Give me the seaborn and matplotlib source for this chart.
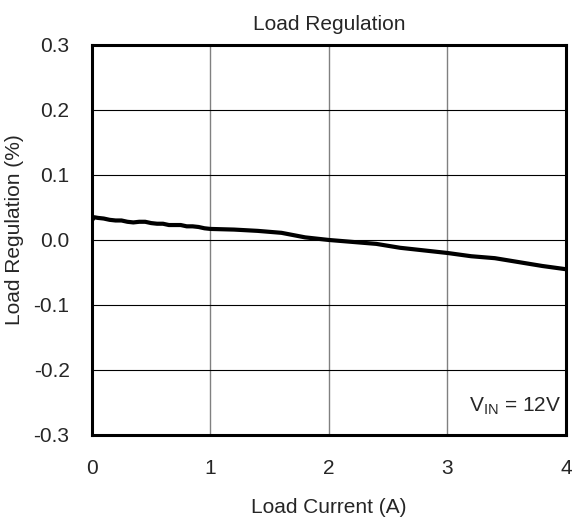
import numpy as np
import pandas as pd
import matplotlib
matplotlib.use('Agg')
import matplotlib.pyplot as plt
import seaborn as sns

# Load regulation curve
current = [0.0, 0.02, 0.05, 0.1, 0.15, 0.2, 0.25, 0.3, 0.35, 0.4, 0.45, 0.5, 0.55, 0.6,
           0.65, 0.7, 0.75, 0.8, 0.85, 0.9, 0.95, 1.0, 1.2, 1.4, 1.6, 1.8, 2.0, 2.2,
           2.4, 2.6, 2.8, 3.0, 3.2, 3.4, 3.6, 3.8, 4.0]
regulation = [0.030, 0.035, 0.034, 0.033, 0.031, 0.030, 0.030, 0.028, 0.027, 0.028,
              0.028, 0.026, 0.025, 0.025, 0.023, 0.023, 0.023, 0.021, 0.021, 0.020,
              0.018, 0.017, 0.016, 0.014, 0.011, 0.004, 0.000, -0.003, -0.006, -0.012,
              -0.016, -0.020, -0.025, -0.028, -0.034, -0.040, -0.045]

x_ticks = [0, 1, 2, 3, 4]
y_ticks = [-0.3, -0.2, -0.1, 0.0, 0.1, 0.2, 0.3]
y_labels = ['-0.3', '-0.2', '-0.1', '0.0', '0.1', '0.2', '0.3']

df = pd.DataFrame({'current': current, 'regulation': regulation})

sns.set_style('white')
plt.rcParams['font.family'] = ['Liberation Sans', 'DejaVu Sans']
plt.rcParams['mathtext.fontset'] = 'custom'
plt.rcParams['mathtext.rm'] = 'Liberation Sans'

fs = 15
fig = plt.figure(figsize=(5.85, 5.2), dpi=100)
ax = fig.add_axes([0.157, 0.1635, 0.8105, 0.75])

sns.lineplot(data=df, x='current', y='regulation', ax=ax, color='black', linewidth=3)

ax.set_xlim(0, 4)
ax.set_ylim(-0.3, 0.3)
ax.set_xticks(x_ticks)
ax.set_yticks(y_ticks)
ax.set_yticklabels(y_labels)
ax.tick_params(labelsize=fs, length=0)
ax.tick_params(axis='x', pad=17)
ax.tick_params(axis='y', pad=16)

ax.xaxis.grid(True, color='#808080', linewidth=1)
ax.yaxis.grid(True, color='black', linewidth=0.8)
for s in ax.spines.values():
    s.set_color('black')
    s.set_linewidth(2.2)

ax.set_title('Load Regulation', fontsize=fs, pad=11)
ax.set_xlabel('Load Current (A)', fontsize=fs, labelpad=15)
ax.set_ylabel('Load Regulation (%)', fontsize=fs)
ax.yaxis.set_label_coords(-0.143, 0.526)

ax.text(0.99, 0.045, r'V$_{\mathregular{IN}}$ = 12V', transform=ax.transAxes,
        ha='right', va='bottom', fontsize=fs,
        bbox=dict(facecolor='white', edgecolor='none', pad=1))

fig.savefig('out.png', dpi=100)
